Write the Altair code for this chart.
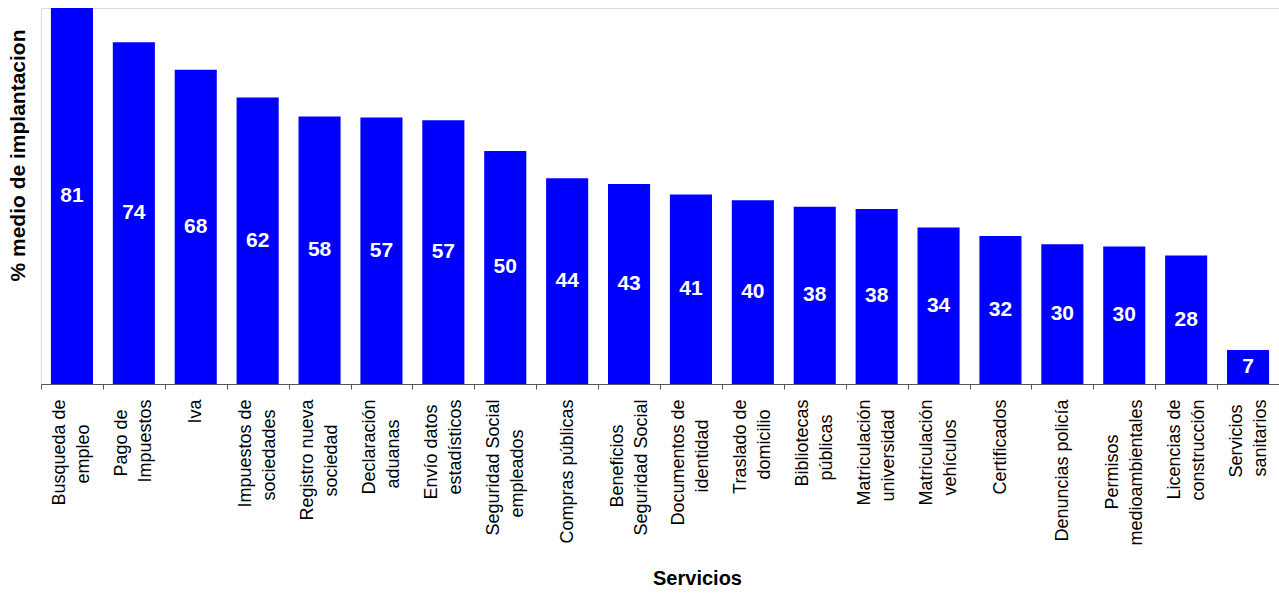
import altair as alt
import pandas as pd

categories = [
    "Busqueda de|empleo", "Pago de|Impuestos", "Iva", "Impuestos de|sociedades",
    "Registro nueva|sociedad", "Declaración|aduanas", "Envío datos|estadísticos",
    "Seguridad Social|empleados", "Compras públicas", "Beneficios|Seguridad Social",
    "Documentos de|identidad", "Traslado de|domicilio", "Bibliotecas|públicas",
    "Matriculación|universidad", "Matriculación|vehículos", "Certificados",
    "Denuncias policía", "Permisos|medioambientales", "Licencias de|construcción",
    "Servicios|sanitarios",
]
values = [81.0, 73.6, 67.7, 61.7, 57.6, 57.4, 56.8, 50.2, 44.3, 43.1,
          40.8, 39.6, 38.2, 37.7, 33.7, 31.9, 30.1, 29.6, 27.7, 7.3]

df = pd.DataFrame({"cat": categories, "value": values})

A = "split(datum.label,'|')[0]"
B = "split(datum.label,'|')[1]"
NB = "'\u00a0'"
ZW = "'\u200b'"
label_expr = (
    f"indexof(datum.label,'|') < 0 ? [{ZW}, datum.label] : ["
    f"pad({A}, length({A}) + max(0, round(0.9*(length({B})-length({A})))), {NB}) + {ZW}, {ZW}, "
    f"pad({B}, length({B}) + max(0, round(0.9*(length({A})-length({B})))), {NB}) + {ZW}]"
)

x_enc = alt.X(
    "cat:N",
    sort=categories,
    scale=alt.Scale(paddingInner=0, paddingOuter=0),
    axis=alt.Axis(
        title="Servicios",
        titleFont="Liberation Sans", titleFontSize=20, titleFontWeight="bold",
        titleColor="black", titleX=656, titleY=194,
        titleAlign="center", titleBaseline="middle",
        labelExpr=label_expr,
        labelAngle=-90, labelAlign="right", labelBaseline="middle",
        labelFont="Liberation Sans", labelFontSize=18, labelColor="black",
        labelLineHeight=12, labelOffset=-12,
        labelPadding=10, labelLimit=400, labelOverlap=False,
        tickBand="extent", tickSize=5, tickColor="#555555",
        domainColor="#555555", domainWidth=1,
    ),
)

y_scale = alt.Scale(domain=[0, 81], nice=False, zero=True)
y_axis = alt.Axis(
    title="% medio de implantacion",
    titleFont="Liberation Sans", titleFontSize=21, titleFontWeight="bold",
    titleColor="black", titleX=-23, titleY=147, titleAngle=-90,
    titleAlign="center", titleBaseline="middle",
    domain=False, ticks=False, labels=False, grid=False,
)

bars = alt.Chart(df).mark_bar(
    color="#0000FF", width=alt.RelativeBandSize(0.68)
).encode(
    x=x_enc,
    y=alt.Y("value:Q", scale=y_scale, axis=y_axis),
)

texts = alt.Chart(df).transform_calculate(
    mid="datum.value / 2"
).mark_text(
    color="white", font="Liberation Sans", fontSize=21, fontWeight="bold",
    align="center", baseline="middle",
).encode(
    x=alt.X("cat:N", sort=categories),
    y=alt.Y("mid:Q", scale=y_scale),
    text=alt.Text("value:Q", format=".0f"),
)

chart = alt.layer(bars, texts).properties(
    width=1238, height=376,
    autosize=alt.AutoSizeParams(type="none"),
    padding={"left": 41, "top": 8, "right": 0, "bottom": 210},
).configure_view(stroke=None).configure(background="white")

chart.save("out.html", embed_options={"renderer": "svg", "actions": False})
